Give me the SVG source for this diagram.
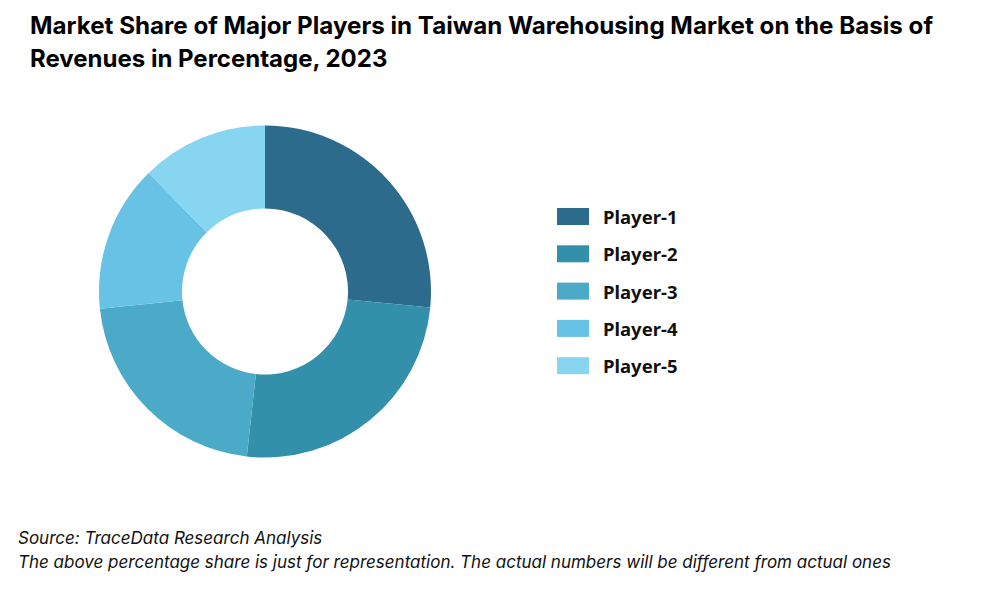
<svg xmlns="http://www.w3.org/2000/svg" width="1000" height="600" viewBox="0 0 1000 600">
<style>
.title{font-family:Inter,"Liberation Sans",sans-serif;font-weight:700;font-size:24px;fill:#000}
.leg{font-family:"Noto Sans","Liberation Sans",sans-serif;font-weight:700;font-size:18.5px;fill:#111}
.note{font-family:Inter,"Liberation Sans",sans-serif;font-style:italic;font-size:17px;fill:#111}
.c1{fill:#2c6b8b}.c2{fill:#3390ab}.c3{fill:#4caac9}.c4{fill:#67c2e5}.c5{fill:#88d5f1}
</style>
<rect width="1000" height="600" fill="#fff"/>
<text class="title" x="30" y="34" textLength="903" lengthAdjust="spacingAndGlyphs">Market Share of Major Players in Taiwan Warehousing Market on the Basis of</text>
<text class="title" x="30" y="67">Revenues in Percentage, 2023</text>
<g id="donut">
<path id="seg-player-1" class="c1" d="M265,125.5 A166,166 0 0 1 430.24,307.41 L347.62,299.46 A83,83 0 0 0 265,208.5 Z"/>
<path id="seg-player-2" class="c2" d="M430.24,307.41 A166,166 0 0 1 246.78,456.5 L255.89,374 A83,83 0 0 0 347.62,299.46 Z"/>
<path id="seg-player-3" class="c3" d="M246.78,456.5 A166,166 0 0 1 99.91,308.85 L182.45,300.18 A83,83 0 0 0 255.89,374 Z"/>
<path id="seg-player-4" class="c4" d="M99.91,308.85 A166,166 0 0 1 148.65,173.1 L206.82,232.3 A83,83 0 0 0 182.45,300.18 Z"/>
<path id="seg-player-5" class="c5" d="M148.65,173.1 A166,166 0 0 1 265,125.5 L265,208.5 A83,83 0 0 0 206.82,232.3 Z"/>
</g>
<g id="legend">
<g id="leg-1"><rect class="c1" x="557" y="208" width="32" height="17"/><text class="leg" x="603" y="224">Player-1</text></g>
<g id="leg-2"><rect class="c2" x="557" y="245.3" width="32" height="17"/><text class="leg" x="603" y="261.3">Player-2</text></g>
<g id="leg-3"><rect class="c3" x="557" y="282.6" width="32" height="17"/><text class="leg" x="603" y="298.6">Player-3</text></g>
<g id="leg-4"><rect class="c4" x="557" y="319.9" width="32" height="17"/><text class="leg" x="603" y="335.9">Player-4</text></g>
<g id="leg-5"><rect class="c5" x="557" y="357.2" width="32" height="17"/><text class="leg" x="603" y="373.2">Player-5</text></g>
</g>
<g id="connectors"/>
<text class="note" x="18" y="544">Source: TraceData Research Analysis</text>
<text class="note" x="18" y="568">The above percentage share is just for representation. The actual numbers will be different from actual ones</text>
</svg>
